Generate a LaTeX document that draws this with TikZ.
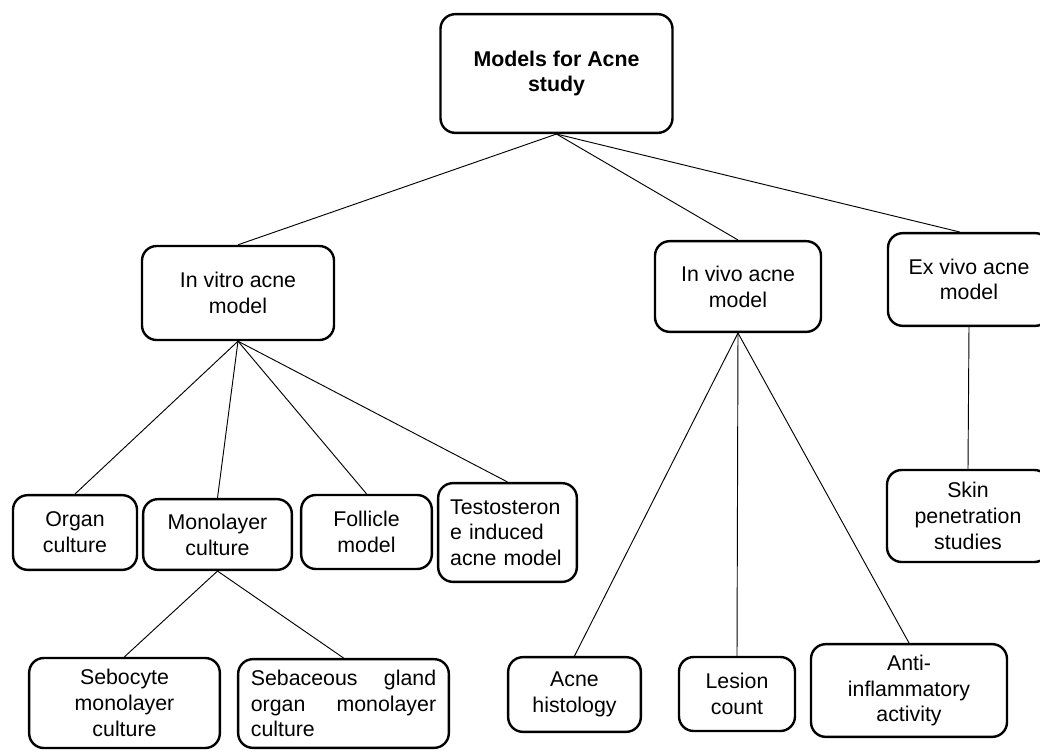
\documentclass[tikz,border=0pt]{standalone}
\usepackage{fontspec}
\setmainfont{Liberation Sans}
\usepackage{tikz}
\usetikzlibrary{positioning}

\begin{document}
\begin{tikzpicture}[
    x=0.75pt, y=-0.75pt,
    model/.style={rectangle, draw, rounded corners=11pt, line width=1.8pt, align=center, inner sep=0pt,
                  font=\fontsize{16}{19.3}\selectfont},
    link/.style={line width=0.7pt}
]
    \useasboundingbox (0,0) rectangle (1040,751);

    \node[model, minimum width=174pt, minimum height=89pt, font=\fontsize{16}{19.3}\selectfont\bfseries] (root) at (556.5, 73.5) {Models for Acne\\study};

    \node[model, minimum width=144pt, minimum height=70.5pt] (invitro) at (238, 293) {In vitro acne\\model};
    \node[model, minimum width=124.5pt, minimum height=68pt] (invivo) at (738, 286.5) {In vivo acne\\model};
    \node[model, minimum width=121.5pt, minimum height=69.5pt] (exvivo) at (969, 279.5) {Ex vivo acne\\model};

    \node[model, minimum width=93pt, minimum height=56pt] (organ) at (75, 532.5) {Organ\\culture};
    \node[model, minimum width=111.5pt, minimum height=53pt] (monolayer) at (217.5, 534.5) {Monolayer\\culture};
    \node[model, minimum width=98pt, minimum height=55.5pt] (follicle) at (366.5, 532) {Follicle\\model};
    \node[model, minimum width=104pt, minimum height=74pt, text width=86pt, align=left] (testo) at (507.5, 532.5) {Testosteron\\e induced\\acne model};

    \node[model, minimum width=143pt, minimum height=67.5pt] (sebocyte) at (124.5, 703) {Sebocyte\\monolayer\\culture};
    \node[model, minimum width=158pt, minimum height=66.5pt, text width=139pt, align=left] (sebaceous) at (343.5, 703.5) {Sebaceous\hfill gland\\organ\hfill monolayer\\culture};

    \node[model, minimum width=99.5pt, minimum height=56pt] (histology) at (574.5, 694.5) {Acne\\histology};
    \node[model, minimum width=87pt, minimum height=55.5pt] (lesion) at (737, 694) {Lesion\\count};
    \node[model, minimum width=147pt, minimum height=69.5pt] (anti) at (909, 690.5) {Anti-\\inflammatory\\activity};

    \node[model, minimum width=121.5pt, minimum height=69pt] (skin) at (968, 516) {Skin\\penetration\\studies};

    \draw[link] (root.south) -- (invitro.north);
    \draw[link] (root.south) -- (invivo.north);
    \draw[link] (root.south) -- ([xshift=-7pt]exvivo.north);

    \draw[link] (invitro.south) -- (organ.north);
    \draw[link] (invitro.south) -- (monolayer.north);
    \draw[link] (invitro.south) -- (follicle.north);
    \draw[link] (invitro.south) -- (testo.north);

    \draw[link] (monolayer.south) -- (sebocyte.north);
    \draw[link] (monolayer.south) -- (sebaceous.north);

    \draw[link] (invivo.south) -- (histology.north);
    \draw[link] (invivo.south) -- (lesion.north);
    \draw[link] (invivo.south) -- (anti.north);

    \draw[link] (exvivo.south) -- (skin.north);
\end{tikzpicture}
\end{document}
